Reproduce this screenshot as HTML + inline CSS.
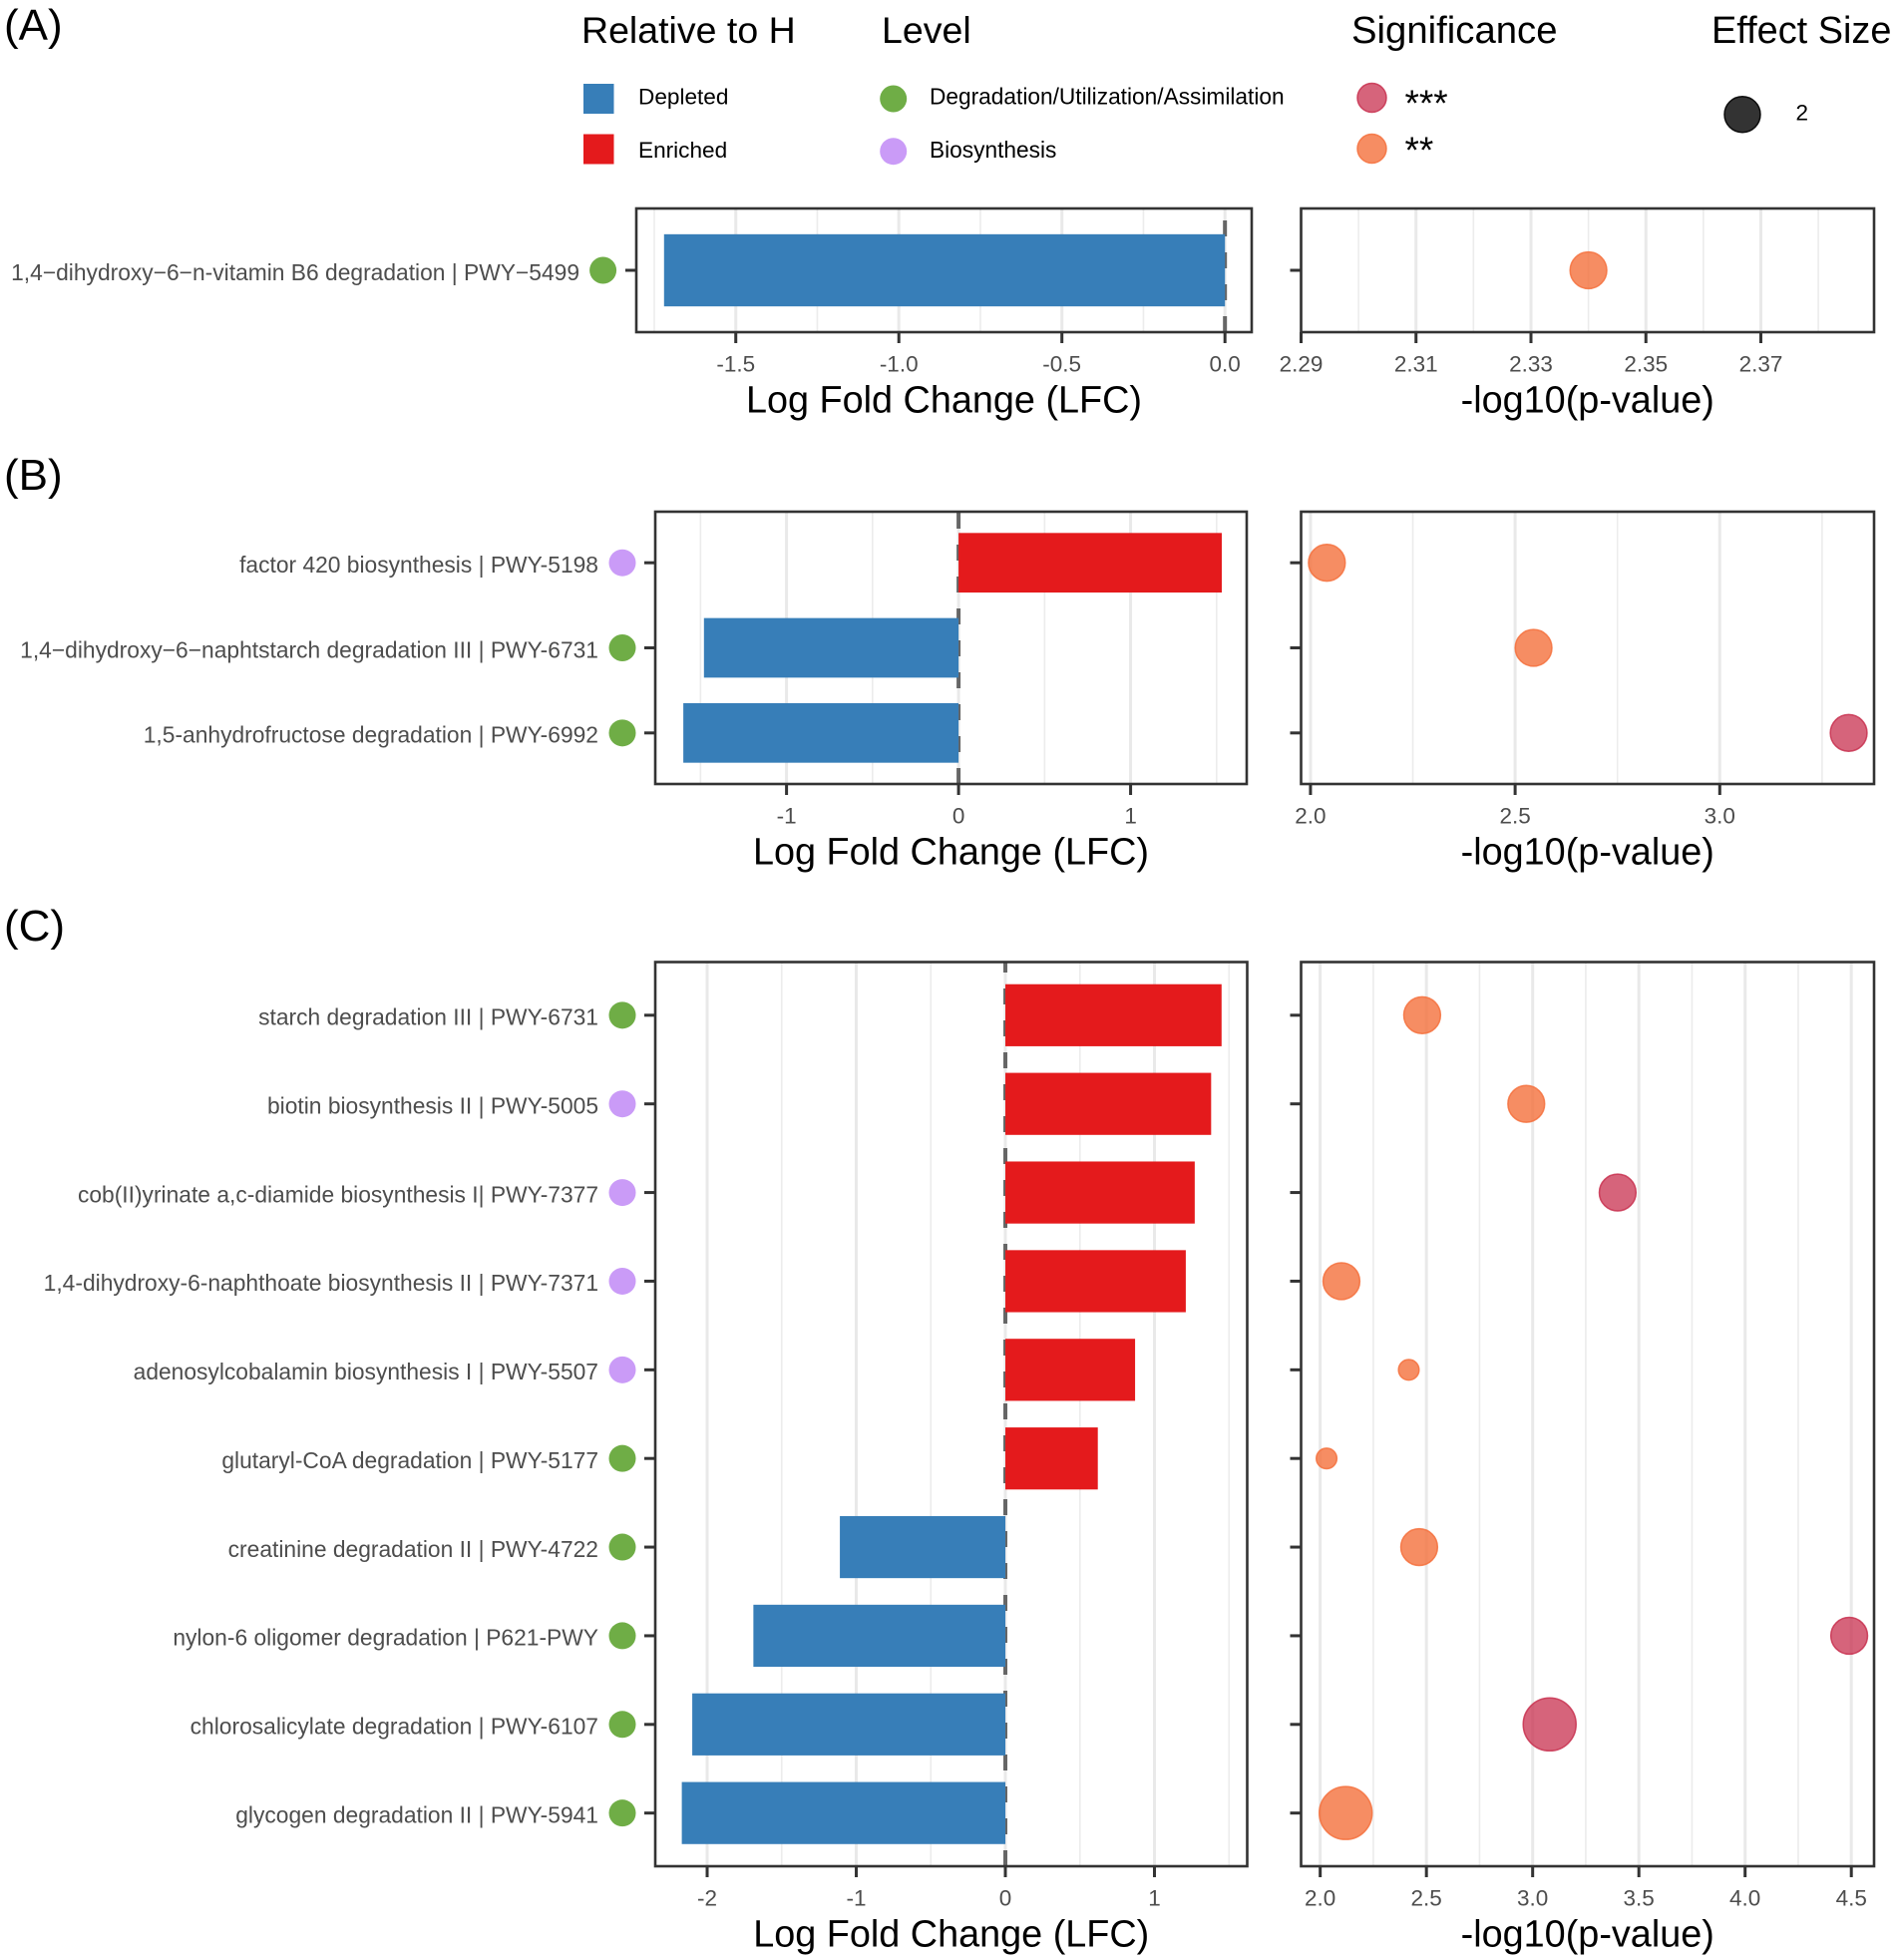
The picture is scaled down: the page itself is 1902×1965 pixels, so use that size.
<!DOCTYPE html>
<html lang="en">
<head>
<meta charset="utf-8">
<title>Pathway differential abundance</title>
<style>
html,body{margin:0;padding:0;background:#fff;}
svg{display:block;font-family:"Liberation Sans",Arial,sans-serif;}
</style>
</head>
<body>
<svg id="figure" xmlns="http://www.w3.org/2000/svg" width="1902" height="1965" viewBox="0 0 1902 1965">
  <rect x="0" y="0" width="1902" height="1965" fill="#fff"/>
  <text x="4" y="40" font-size="44" fill="#000">(A)</text>
  <text x="4" y="491" font-size="44" fill="#000">(B)</text>
  <text x="4" y="943" font-size="44" fill="#000">(C)</text>

  <g>
    <text x="583" y="43" font-size="37.5" fill="#000">Relative to H</text>
    <rect x="585" y="84" width="30.5" height="30" fill="#377eb8"/>
    <text x="640" y="104.5" font-size="22.6" fill="#000">Depleted</text>
    <rect x="585" y="134.5" width="30.5" height="30" fill="#e41a1c"/>
    <text x="640" y="158" font-size="22.6" fill="#000">Enriched</text>

    <text x="884" y="43" font-size="37.5" fill="#000">Level</text>
    <circle cx="895.7" cy="99" r="13.5" fill="#6fad46"/>
    <text x="932" y="104.5" font-size="22.7" fill="#000">Degradation/Utilization/Assimilation</text>
    <circle cx="895.7" cy="151.7" r="13.5" fill="#ca9bf7"/>
    <text x="932" y="158" font-size="22.7" fill="#000">Biosynthesis</text>

    <text x="1355" y="43" font-size="38.3" fill="#000">Significance</text>
    <circle cx="1375.5" cy="98" r="14.5" fill="#c8304f" fill-opacity="0.75" stroke="#c8304f" stroke-opacity="0.85" stroke-width="1.5"/>
    <text x="1408.5" y="116" font-size="37" fill="#000">***</text>
    <circle cx="1375.5" cy="149" r="14.5" fill="#f4703c" fill-opacity="0.8" stroke="#f4703c" stroke-opacity="0.85" stroke-width="1.5"/>
    <text x="1408.5" y="163" font-size="37" fill="#000">**</text>

    <text x="1716" y="43" font-size="37.9" fill="#000">Effect Size</text>
    <circle cx="1747" cy="114.7" r="18" fill="#000" fill-opacity="0.8" stroke="#000" stroke-opacity="0.9" stroke-width="1.5"/>
    <text x="1800.5" y="120.5" font-size="22.5" fill="#000">2</text>
  </g>
  <g id="panels"></g>
</svg>
<script>
// Panel A data
const panelACategories = ["1,4\u2212dihydroxy\u22126\u2212n-vitamin B6 degradation | PWY\u22125499"];
const panelALevels = ["degradation"];
const panelALfc = [-1.72];
const panelAPvalues = [2.34];
const panelASignificance = ["**"];
const panelAEffectSizes = [2];
const panelALfcTicks = ["-1.5", "-1.0", "-0.5", "0.0"];
const panelALfcMinorTicks = [-1.75, -1.25, -0.75, -0.25];
const panelAPTicks = ["2.29", "2.31", "2.33", "2.35", "2.37"];
const panelAPMinorTicks = [2.30, 2.32, 2.34, 2.36, 2.38];

// Panel B data
const panelBCategories = [
  "factor 420 biosynthesis | PWY-5198",
  "1,4\u2212dihydroxy\u22126\u2212naphtstarch degradation III | PWY-6731",
  "1,5-anhydrofructose degradation | PWY-6992"
];
const panelBLevels = ["biosynthesis", "degradation", "degradation"];
const panelBLfc = [1.53, -1.48, -1.60];
const panelBPvalues = [2.04, 2.545, 3.315];
const panelBSignificance = ["**", "**", "***"];
const panelBEffectSizes = [2, 2, 2];
const panelBLfcTicks = ["-1", "0", "1"];
const panelBLfcMinorTicks = [-1.5, -0.5, 0.5, 1.5];
const panelBPTicks = ["2.0", "2.5", "3.0"];
const panelBPMinorTicks = [2.25, 2.75, 3.25];

// Panel C data
const panelCCategories = [
  "starch degradation III | PWY-6731",
  "biotin biosynthesis II | PWY-5005",
  "cob(II)yrinate a,c-diamide biosynthesis I| PWY-7377",
  "1,4-dihydroxy-6-naphthoate biosynthesis II | PWY-7371",
  "adenosylcobalamin biosynthesis I | PWY-5507",
  "glutaryl-CoA degradation | PWY-5177",
  "creatinine degradation II | PWY-4722",
  "nylon-6 oligomer degradation | P621-PWY",
  "chlorosalicylate degradation | PWY-6107",
  "glycogen degradation II | PWY-5941"
];
const panelCLevels = ["degradation", "biosynthesis", "biosynthesis", "biosynthesis", "biosynthesis", "degradation", "degradation", "degradation", "degradation", "degradation"];
const panelCLfc = [1.45, 1.38, 1.27, 1.21, 0.87, 0.62, -1.11, -1.69, -2.10, -2.17];
const panelCPvalues = [2.48, 2.97, 3.40, 2.10, 2.417, 2.03, 2.466, 4.49, 3.08, 2.12];
const panelCSignificance = ["**", "**", "***", "**", "**", "**", "**", "***", "***", "**"];
const panelCEffectSizes = [2, 2, 2, 2, 1, 1, 2, 2, 3, 3];
const panelCLfcTicks = ["-2", "-1", "0", "1"];
const panelCLfcMinorTicks = [-1.5, -0.5, 0.5, 1.5];
const panelCPTicks = ["2.0", "2.5", "3.0", "3.5", "4.0", "4.5"];
const panelCPMinorTicks = [2.25, 2.75, 3.25, 3.75, 4.25];

const NS = "http://www.w3.org/2000/svg";
const root = document.getElementById("panels");
const levelColor = { degradation: "#6fad46", biosynthesis: "#ca9bf7" };
const sigColor = { "***": "#c8304f", "**": "#f4703c" };

function linear(dMin, dMax, rMin, rMax) {
  return function (v) { return rMin + (v - dMin) / (dMax - dMin) * (rMax - rMin); };
}
function sizeRadius(s) { return 2.2 + 8.1 * s; }

function make(tag, parent, attrs, text) {
  const el = document.createElementNS(NS, tag);
  for (const k in attrs) el.setAttribute(k, attrs[k]);
  if (text !== undefined) el.textContent = text;
  parent.appendChild(el);
  return el;
}

function drawGrid(g, frame, x, majors, minors) {
  minors.forEach(function (v) {
    const el = make("line", g, { x1: x(v), x2: x(v), y1: frame.top, y2: frame.bottom, stroke: "#ececec", "stroke-width": 1.6 });
    
    
  });
  majors.forEach(function (t) {
    const el = make("line", g, { x1: x(Number(t)), x2: x(Number(t)), y1: frame.top, y2: frame.bottom, stroke: "#e9e9e9", "stroke-width": 3 });
    
    
  });
}

function drawFrameAndAxis(g, frame, x, majors, title) {
  const box = make("rect", g, { x: frame.left, y: frame.top, width: frame.right - frame.left, height: frame.bottom - frame.top, fill: "none", stroke: "#333", "stroke-width": 2.6 });
  
  
  majors.forEach(function (t) {
    const px = x(Number(t));
    const tick = make("line", g, { x1: px, x2: px, y1: frame.bottom, y2: frame.bottom + 11, stroke: "#333", "stroke-width": 3 });
    
    
    const label = make("text", g, { x: px, y: frame.bottom + 39.5, "text-anchor": "middle", "font-size": 22.5, fill: "#4d4d4d" }, t);
    
    
  });
  const titleEl = make("text", g, { x: (frame.left + frame.right) / 2, y: frame.bottom + 80.5, "text-anchor": "middle", "font-size": 37.8, fill: "#000" }, title);
  
  
}

function drawPanel(name, cfg, categories, levels, lfc, pvals, sig, sizes, lfcTicks, lfcMinor, pTicks, pMinor) {
  const group = make("g", root, {});
  
  

  const n = categories.length;
  const unit = (cfg.bottom - cfg.top) / (n - 1 + 1.2);
  const rowY = function (i) { return cfg.top + unit * (0.6 + i); };

  // Left (LFC) panel
  const leftFrame = { left: cfg.lfcLeft, right: cfg.lfcRight, top: cfg.top, bottom: cfg.bottom };
  const xL = linear(cfg.lfcMin, cfg.lfcMax, cfg.lfcLeft, cfg.lfcRight);
  const lg = make("g", group, {});
  
  
  drawGrid(lg, leftFrame, xL, lfcTicks, lfcMinor);
  const zero = make("line", lg, { x1: xL(0), x2: xL(0), y1: cfg.bottom, y2: cfg.top, stroke: "#666", "stroke-width": 4, "stroke-dasharray": "16 16" });
  
  
  const barH = unit * 0.7;
  lfc.forEach(function (v, i) {
    const bar = make("rect", lg, {
      x: Math.min(xL(0), xL(v)),
      y: rowY(i) - barH / 2,
      width: Math.abs(xL(v) - xL(0)),
      height: barH,
      fill: v < 0 ? "#377eb8" : "#e41a1c"
    });
    
    
  });
  categories.forEach(function (c, i) {
    const y = rowY(i);
    const tick = make("line", lg, { x1: cfg.lfcLeft - 11, x2: cfg.lfcLeft, y1: y, y2: y, stroke: "#333", "stroke-width": 3 });
    
    
    const dot = make("circle", lg, { cx: cfg.dotX, cy: y, r: 13.5, fill: levelColor[levels[i]] });
    
    
    const label = make("text", lg, { x: cfg.labelX, y: y + 9.8, "text-anchor": "end", "font-size": 22.8, fill: "#4d4d4d" }, c);
    
    
  });
  drawFrameAndAxis(lg, leftFrame, xL, lfcTicks, "Log Fold Change (LFC)");

  // Right (p-value) panel
  const rightFrame = { left: 1304.5, right: 1879, top: cfg.top, bottom: cfg.bottom };
  const xR = linear(cfg.pMin, cfg.pMax, rightFrame.left, rightFrame.right);
  const rg = make("g", group, {});
  
  
  drawGrid(rg, rightFrame, xR, pTicks, pMinor);
  pvals.forEach(function (v, i) {
    const pt = make("circle", rg, {
      cx: xR(v), cy: rowY(i), r: sizeRadius(sizes[i]),
      fill: sigColor[sig[i]], "fill-opacity": sig[i] === "***" ? 0.75 : 0.8,
      stroke: sigColor[sig[i]], "stroke-opacity": 0.85, "stroke-width": 1.5
    });
    
    
    const tick = make("line", rg, { x1: rightFrame.left - 11, x2: rightFrame.left, y1: rowY(i), y2: rowY(i), stroke: "#333", "stroke-width": 3 });
    
    
  });
  drawFrameAndAxis(rg, rightFrame, xR, pTicks, "-log10(p-value)");
}

drawPanel("panel-a",
  { top: 209, bottom: 333, lfcLeft: 638, lfcRight: 1255, lfcMin: -1.805, lfcMax: 0.082, dotX: 604.6, labelX: 581, pMin: 2.29, pMax: 2.3897 },
  panelACategories, panelALevels, panelALfc, panelAPvalues, panelASignificance, panelAEffectSizes,
  panelALfcTicks, panelALfcMinorTicks, panelAPTicks, panelAPMinorTicks);

drawPanel("panel-b",
  { top: 513, bottom: 786, lfcLeft: 657, lfcRight: 1250, lfcMin: -1.763, lfcMax: 1.675, dotX: 624, labelX: 600, pMin: 1.977, pMax: 3.377 },
  panelBCategories, panelBLevels, panelBLfc, panelBPvalues, panelBSignificance, panelBEffectSizes,
  panelBLfcTicks, panelBLfcMinorTicks, panelBPTicks, panelBPMinorTicks);

drawPanel("panel-c",
  { top: 964.5, bottom: 1871, lfcLeft: 657, lfcRight: 1250.5, lfcMin: -2.348, lfcMax: 1.622, dotX: 624, labelX: 600, pMin: 1.910, pMax: 4.607 },
  panelCCategories, panelCLevels, panelCLfc, panelCPvalues, panelCSignificance, panelCEffectSizes,
  panelCLfcTicks, panelCLfcMinorTicks, panelCPTicks, panelCPMinorTicks);
</script>
</body>
</html>
